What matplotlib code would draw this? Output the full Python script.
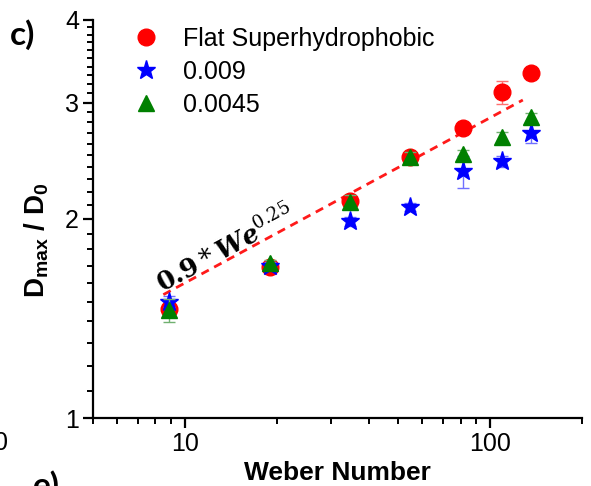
import numpy as np
import matplotlib
matplotlib.use("Agg")
import matplotlib.pyplot as plt
from matplotlib.lines import Line2D
from matplotlib.ticker import FixedLocator, NullFormatter, FixedFormatter

# ---- data ----
weber = [8.86, 19.0, 34.8, 54.7, 81.5, 109.4, 136.0]
flat_sh = [1.46, 1.69, 2.13, 2.48, 2.75, 3.11, 3.33]
flat_sh_err = [0.03, 0.02, 0.03, 0.03, 0.03, 0.12, 0.03]
s_0009 = [1.50, 1.70, 1.985, 2.085, 2.36, 2.445, 2.70]
s_0009_err = [0.03, 0.02, 0.03, 0.03, 0.13, 0.05, 0.09]
s_00045 = [1.455, 1.715, 2.125, 2.48, 2.505, 2.66, 2.85]
s_00045_err = [0.06, 0.02, 0.05, 0.05, 0.04, 0.05, 0.04]
labels = ["Flat Superhydrophobic", "0.009", "0.0045"]
fit_coef = 0.9
fit_exp = 0.25
fit_range = [8.5, 128]
x_major = [10, 100]
x_minor = [5, 6, 7, 8, 9, 20, 30, 40, 50, 60, 70, 80, 90, 200]
y_major = [1, 2, 3, 4]

plt.rcParams['font.family'] = ['Liberation Sans', 'DejaVu Sans']
plt.rcParams['mathtext.fontset'] = 'custom'
plt.rcParams['mathtext.rm'] = 'Liberation Sans'
plt.rcParams['mathtext.bf'] = 'Liberation Sans:bold'
plt.rcParams['mathtext.it'] = 'Liberation Sans:italic'

fig = plt.figure(figsize=(5.91, 4.86), dpi=100)
ax = fig.add_axes([93/591, 68/486, (582-93)/591, (418-20)/486])
ax.set_xscale('log')
ax.set_yscale('log')
ax.set_xlim(5, 200)
ax.set_ylim(1, 4)

# fit line
fx = np.array(fit_range)
ax.plot(fx, fit_coef * fx ** fit_exp, color='#ff1a1a', lw=2.0,
        linestyle=(0, (3, 2.2)), zorder=2)

styles = [
    dict(fmt='o', color='#ff0000', ms=12, ecolor='#ff7070', zorder=3),
    dict(fmt='*', color='#0000ff', ms=14, ecolor='#7070ff', zorder=4),
    dict(fmt='^', color='#008000', ms=12, ecolor='#70b070', zorder=5),
]
series = [(flat_sh, flat_sh_err), (s_0009, s_0009_err), (s_00045, s_00045_err)]
handles = []
for (vals, errs), st, lab in zip(series, styles, labels):
    ax.errorbar(weber, vals, yerr=errs, fmt=st['fmt'], color=st['color'], ms=st['ms'],
                mec=st['color'], ecolor=st['ecolor'], elinewidth=1, capsize=4,
                capthick=1, zorder=st['zorder'])
    handles.append(Line2D([], [], marker=st['fmt'], color=st['color'], ls='none',
                          ms=st['ms'], mec=st['color'], label=lab))

for s in ['top', 'right']:
    ax.spines[s].set_visible(False)
for s in ['left', 'bottom']:
    ax.spines[s].set_linewidth(1.6)

ax.xaxis.set_major_locator(FixedLocator(x_major))
ax.xaxis.set_major_formatter(FixedFormatter([str(v) for v in x_major]))
ax.xaxis.set_minor_locator(FixedLocator(x_minor))
ax.xaxis.set_minor_formatter(NullFormatter())
ax.yaxis.set_major_locator(FixedLocator(y_major))
ax.yaxis.set_major_formatter(FixedFormatter([str(v) for v in y_major]))
ax.yaxis.set_minor_locator(FixedLocator(list(np.round(np.arange(1.1, 4.0, 0.1), 2))))
ax.yaxis.set_minor_formatter(NullFormatter())
ax.tick_params(which='major', direction='out', length=7, width=1.6, labelsize=18, pad=3)
ax.tick_params(which='minor', direction='out', length=4, width=1.4)

ax.set_xlabel('Weber Number', fontsize=19, fontweight='bold', labelpad=4)
ax.set_ylabel(r'D$_{\mathbf{max}}$ / D$_{\mathbf{0}}$', fontsize=20,
              fontweight='bold')
ax.yaxis.set_label_coords(-0.086, 0.447)

ax.legend(handles=handles, loc='upper left', bbox_to_anchor=(133/591, 1 - 27/486),
          bbox_transform=fig.transFigure, frameon=False, fontsize=18,
          handlelength=1.0, handletextpad=1.0, borderpad=0, borderaxespad=0,
          labelspacing=0.36)

ax.text(8.47, 1.54, r'$\mathbf{0.9}*\mathbfit{We}^{0.25}$', fontsize=18.5,
        rotation=28.5, rotation_mode='anchor', ha='left', va='baseline',
        math_fontfamily='dejavuserif', zorder=6)

fig.text(10/591, 1 - 45/486, 'c)', fontsize=24, fontweight='bold',
         family=['Lato', 'DejaVu Sans'])
fig.text(8/591, 1 - 450/486, '0', fontsize=18, ha='right')
fig.text(33/591, 1 - 470/486, 'e)', fontsize=24, fontweight='bold', va='top',
         family=['Lato', 'DejaVu Sans'])

fig.savefig('out.png', dpi=100)
